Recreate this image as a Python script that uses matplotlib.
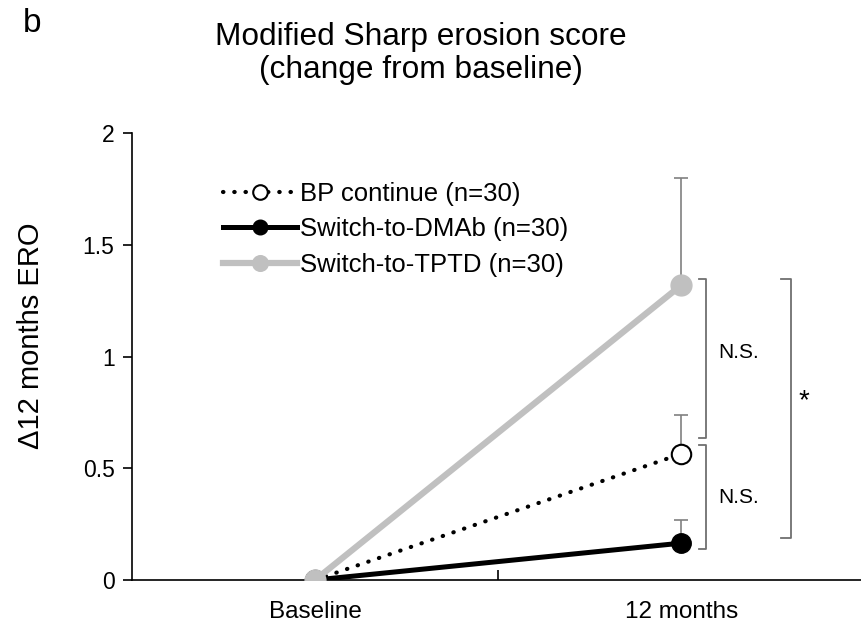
import matplotlib.pyplot as plt

plt.rcParams['font.family'] = ['Liberation Sans', 'DejaVu Sans']

# data
timepoints = ['Baseline', '12 months']
bp_mean = [0, 0.565]
bp_err = [0, 0.175]
dmab_mean = [0, 0.165]
dmab_err = [0, 0.105]
tptd_mean = [0, 1.32]
tptd_err = [0, 0.48]
labels = ['BP continue (n=30)', 'Switch-to-DMAb (n=30)', 'Switch-to-TPTD (n=30)']

x = [0.5, 1.5]
GRAY = '#c0c0c0'
ERR = '#808080'
BRK = '#707070'

fig = plt.figure(figsize=(8.62, 6.25), dpi=100)
ax = fig.add_axes([0.153, 0.072, 0.85, 0.715])

# error bars (upper only, at 12 months)
for m, e in [(bp_mean, bp_err), (dmab_mean, dmab_err), (tptd_mean, tptd_err)]:
    ax.errorbar(x[1:], m[1:], yerr=[[0], e[1:]], fmt='none', ecolor=ERR,
                elinewidth=1.2, capsize=5, capthick=1.2, zorder=1)

l_bp, = ax.plot(x, bp_mean, linestyle=(0, (0.1, 2.6)), dash_capstyle='round', lw=3,
                color='black', marker='o', ms=14, mfc='white', mec='black', mew=1.5, zorder=3)
l_dm, = ax.plot(x, dmab_mean, '-', lw=3.6, color='black', marker='o', ms=14,
                mfc='black', mec='black', zorder=4)
l_tp, = ax.plot(x, tptd_mean, '-', lw=4.5, color=GRAY, marker='o', ms=15,
                mfc=GRAY, mec=GRAY, zorder=5)

# significance brackets
def bracket(xv, y0, y1, w=0.018):
    ax.plot([xv - w, xv, xv, xv - w], [y0, y0, y1, y1], color=BRK, lw=1.3, zorder=2)

bracket(1.566, 0.635, 1.347)
bracket(1.566, 0.139, 0.604)
bracket(1.798, 0.188, 1.347, w=0.025)
ax.text(1.655, 1.02, 'N.S.', fontsize=15, ha='center', va='center')
ax.text(1.655, 0.37, 'N.S.', fontsize=15, ha='center', va='center')
ax.text(1.835, 0.80, '*', fontsize=20, ha='center', va='center')

ax.set_xlim(0, 2)
ax.set_ylim(0, 2)
ax.set_yticks([0, 0.5, 1, 1.5, 2])
ax.set_yticklabels(['0', '0.5', '1', '1.5', '2'])
ax.set_xticks([1])
ax.set_xticklabels([''])
ax.set_xticks(x, minor=True)
ax.set_xticklabels(timepoints, minor=True)
ax.tick_params(axis='x', which='minor', length=0, labelsize=17.5, pad=15)
ax.tick_params(axis='x', which='major', length=7, width=1.2, direction='in')
ax.tick_params(axis='y', length=6.5, width=1.2, labelsize=16.5, pad=6)
for s in ['top', 'right']:
    ax.spines[s].set_visible(False)
ax.spines['left'].set_linewidth(1.2)
ax.spines['bottom'].set_linewidth(1.2)
ax.set_ylabel('Δ12 months ERO', fontsize=21)
ax.yaxis.set_label_coords(-0.118, 0.546)

ax.legend([l_bp, l_dm, l_tp], labels, loc='upper left',
          bbox_to_anchor=(210 / 862, 1 - 169 / 625), bbox_transform=fig.transFigure,
          frameon=False, fontsize=18.5, handlelength=2.9, handletextpad=0.1,
          labelspacing=0.45, borderpad=0, markerscale=0.75)

fig.text(0.488, 0.941, 'Modified Sharp erosion score', fontsize=22.8, ha='center', va='center')
fig.text(0.488, 0.888, '(change from baseline)', fontsize=22.8, ha='center', va='center')
fig.text(0.037, 0.963, 'b', fontsize=24, ha='center', va='center')

fig.savefig('out.png', dpi=100)
